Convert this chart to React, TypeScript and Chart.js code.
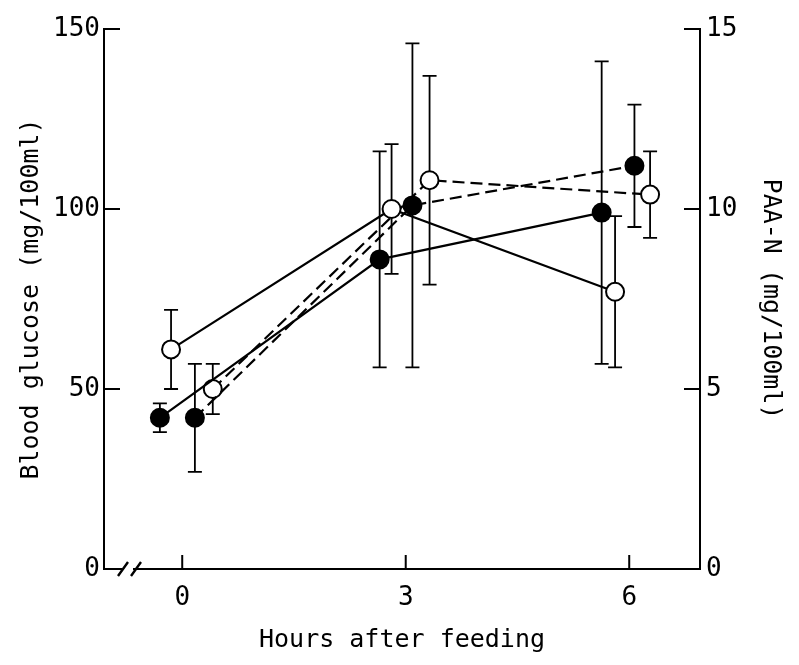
import React, { useEffect, useRef } from 'react';
import { Chart, registerables } from 'chart.js';

Chart.register(...registerables);

const FONT = '"DejaVu Sans Mono", monospace';
const INK = '#000';

// Axis ticks
const xTickValues = [0, 3, 6];
const xTickLabels = ['0', '3', '6'];
const glucoseTicks = [0, 50, 100, 150];
const paaTicks = [0, 5, 10, 15];

// Series (x = hours after feeding, slightly staggered as in the figure)
const xFilledSolid = [-0.3, 2.65, 5.63];
const yFilledSolid = [42, 86, 99];
const eFilledSolid = [4, 30, 42];

const xOpenSolid = [-0.15, 2.81, 5.81];
const yOpenSolid = [61, 100, 77];
const eOpenSolid = [11, 18, 21];

const xFilledDashed = [0.17, 3.09, 6.07];
const yFilledDashed = [42, 101, 112];
const eFilledDashed = [15, 45, 17];

const xOpenDashed = [0.41, 3.32, 6.28];
const yOpenDashed = [50, 108, 104];
const eOpenDashed = [7, 29, 12];

const pts = (xs: number[], ys: number[]) => xs.map((x, i) => ({ x, y: ys[i] }));

const errorBarPlugin = {
  id: 'errorBars',
  beforeDatasetsDraw(chart: any) {
    const ctx = chart.ctx;
    const ys = chart.scales.y;
    ctx.save();
    ctx.strokeStyle = INK;
    ctx.lineWidth = 1.8;
    chart.data.datasets.forEach((ds: any, i: number) => {
      const meta = chart.getDatasetMeta(i);
      meta.data.forEach((el: any, j: number) => {
        const v = ds.data[j].y;
        const e = ds.errors[j];
        const top = ys.getPixelForValue(v + e);
        const bot = ys.getPixelForValue(v - e);
        const x = el.x;
        ctx.beginPath();
        ctx.moveTo(x, top);
        ctx.lineTo(x, bot);
        ctx.moveTo(x - 7, top);
        ctx.lineTo(x + 7, top);
        ctx.moveTo(x - 7, bot);
        ctx.lineTo(x + 7, bot);
        ctx.stroke();
      });
    });
    ctx.restore();
  },
};

const axisDecorPlugin = {
  id: 'axisDecor',
  afterDraw(chart: any) {
    const ctx = chart.ctx;
    const { x, y, y2 } = chart.scales;
    const area = chart.chartArea;
    ctx.save();
    ctx.strokeStyle = INK;
    ctx.lineWidth = 2;
    ctx.beginPath();
    glucoseTicks.forEach((v) => {
      if (v === 0) return;
      const py = y.getPixelForValue(v);
      ctx.moveTo(area.left, py);
      ctx.lineTo(area.left + 16, py);
    });
    paaTicks.forEach((v) => {
      if (v === 0) return;
      const py = y2.getPixelForValue(v);
      ctx.moveTo(area.right, py);
      ctx.lineTo(area.right - 16, py);
    });
    xTickValues.forEach((v) => {
      const px = x.getPixelForValue(v);
      ctx.moveTo(px, area.bottom);
      ctx.lineTo(px, area.bottom - 14);
    });
    ctx.stroke();

    // axis break "//"
    const b1 = area.left + 15;
    const b2 = area.left + 28;
    ctx.fillStyle = '#fff';
    ctx.fillRect(b1 + 3, area.bottom - 3, b2 - b1 - 2, 6);
    ctx.lineWidth = 2.4;
    ctx.beginPath();
    ctx.moveTo(b1 - 1, area.bottom + 7);
    ctx.lineTo(b1 + 9, area.bottom - 7);
    ctx.moveTo(b2 - 1, area.bottom + 7);
    ctx.lineTo(b2 + 9, area.bottom - 7);
    ctx.stroke();
    ctx.restore();
  },
};

export default function App() {
  const ref = useRef<HTMLCanvasElement | null>(null);

  useEffect(() => {
    if (!ref.current) return;
    const tickFont = { family: FONT, size: 26 };
    const titleFont = { family: FONT, size: 25 };
    const common = (label: string, dashed: boolean, filled: boolean, xs: number[], ys: number[], es: number[]) => ({
      label,
      data: pts(xs, ys),
      errors: es,
      borderColor: INK,
      borderWidth: 2.2,
      borderDash: dashed ? [12, 6] : [],
      pointRadius: 9,
      pointHoverRadius: 9,
      pointBorderWidth: 2,
      pointBorderColor: INK,
      pointBackgroundColor: filled ? INK : '#fff',
      fill: false,
      tension: 0,
      yAxisID: 'y',
    });

    const chart = new Chart(ref.current, {
      type: 'line',
      data: {
        datasets: [
          common('Filled, solid', false, true, xFilledSolid, yFilledSolid, eFilledSolid),
          common('Open, solid', false, false, xOpenSolid, yOpenSolid, eOpenSolid),
          common('Filled, dashed', true, true, xFilledDashed, yFilledDashed, eFilledDashed),
          common('Open, dashed', true, false, xOpenDashed, yOpenDashed, eOpenDashed),
        ] as any,
      },
      options: {
        animation: false,
        responsive: false,
        devicePixelRatio: 1,
        layout: { padding: { top: 29, left: 0, right: 0, bottom: 0 } },
        plugins: { legend: { display: false }, tooltip: { enabled: false } },
        scales: {
          x: {
            type: 'linear',
            min: -1.05,
            max: 6.95,
            afterBuildTicks: (s: any) => {
              s.ticks = xTickValues.map((v) => ({ value: v }));
            },
            afterFit: (s: any) => {
              s.height = 96;
            },
            ticks: {
              callback: (v: any) => xTickLabels[xTickValues.indexOf(Number(v))],
              font: tickFont,
              color: INK,
              padding: 14,
              maxRotation: 0,
              autoSkip: false,
            },
            grid: { display: false, drawTicks: false },
            border: { display: true, color: INK, width: 2 },
            title: { display: true, text: 'Hours after feeding', font: titleFont, color: INK, padding: { top: 0, bottom: 10 } },
          },
          y: {
            position: 'left',
            min: 0,
            max: 150,
            afterBuildTicks: (s: any) => {
              s.ticks = glucoseTicks.map((v) => ({ value: v }));
            },
            afterFit: (s: any) => {
              s.width = 104;
            },
            ticks: { font: tickFont, color: INK, padding: 4 },
            grid: { display: false, drawTicks: false },
            border: { display: true, color: INK, width: 2 },
            title: { display: true, text: 'Blood glucose (mg/100ml)', font: titleFont, color: INK, padding: { top: 16, bottom: 0 } },
          },
          y2: {
            position: 'right',
            min: 0,
            max: 15,
            afterBuildTicks: (s: any) => {
              s.ticks = paaTicks.map((v) => ({ value: v }));
            },
            afterFit: (s: any) => {
              s.width = 99;
            },
            ticks: { font: tickFont, color: INK, padding: 6 },
            grid: { display: false, drawTicks: false },
            border: { display: true, color: INK, width: 2 },
            title: { display: true, text: 'PAA-N (mg/100ml)', font: titleFont, color: INK, padding: { top: 14, bottom: 0 } },
          },
        },
      } as any,
      plugins: [errorBarPlugin, axisDecorPlugin],
    });
    return () => chart.destroy();
  }, []);

  return (
    <div style={{ position: 'absolute', left: 0, top: 0, width: 799, height: 665, background: '#fff' }}>
      <canvas ref={ref} width={799} height={665} style={{ width: 799, height: 665, display: 'block' }} />
    </div>
  );
}
